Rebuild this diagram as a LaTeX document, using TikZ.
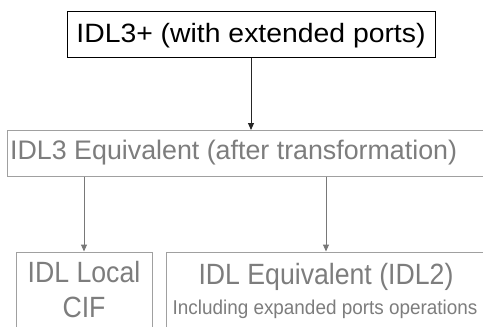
\documentclass[tikz,border=0pt]{standalone}
\usepackage{fontspec}
\setmainfont{Liberation Sans}
\newfontfamily\widefont[FakeStretch=1.07]{Liberation Sans}
\newfontfamily\midfont{Liberation Sans}
\newfontfamily\narrowfont[FakeStretch=0.91]{Liberation Sans}
\newfontfamily\incfont[FakeStretch=0.945]{Liberation Sans}
\usetikzlibrary{arrows.meta}
\definecolor{txtgray}{RGB}{125,125,125}
\definecolor{boxgray}{RGB}{160,160,160}
\definecolor{arrgray}{RGB}{120,120,120}
\tikzset{
  blackbox/.style={draw=black, line width=1pt, inner sep=0pt, fill=white},
  graybox/.style={draw=boxgray, line width=1pt, inner sep=0pt},
  lbl/.style={inner sep=0pt, anchor=base},
  conn/.style={line width=1pt, -{Triangle[length=7pt,width=6pt]}},
}
\begin{document}
\begin{tikzpicture}[x=1pt,y=-1pt]
\useasboundingbox (0,0) rectangle (483,327);
\fill[white] (0,0) rectangle (483,327);
% boxes
\node[blackbox, minimum width=368pt, minimum height=46pt] (top) at (251,34) {};
\node[graybox, minimum width=490pt, minimum height=45.5pt] (mid) at (252,153.25) {};
\node[graybox, minimum width=136pt, minimum height=90pt] (local) at (84,297) {};
\node[graybox, minimum width=320pt, minimum height=90pt] (equiv) at (326,297) {};
% texts
\node[lbl, text=black, font={\widefont\fontsize{26.5}{30}\selectfont}] (topT) at (251,42.3) {IDL3+ (with extended ports)};
\node[lbl, anchor=base west, text=txtgray, font={\midfont\fontsize{26.8}{30}\selectfont}] (midT) at (10,159.3) {IDL3 Equivalent (after transformation)};
\node[lbl, text=txtgray, font={\narrowfont\fontsize{29.3}{33}\selectfont}] (localT1) at (84,282.7) {IDL Local};
\node[lbl, text=txtgray, font={\narrowfont\fontsize{29.3}{33}\selectfont}] (localT2) at (84,317) {CIF};
\node[lbl, text=txtgray, font={\narrowfont\fontsize{29.3}{33}\selectfont}] (equivT1) at (326,284) {IDL Equivalent (IDL2)};
\node[lbl, text=txtgray, font={\incfont\fontsize{20}{22}\selectfont}] (equivT2) at (325,314.3) {Including expanded ports operations};
% connectors
\draw[conn, draw=black!85, fill=black!85] (top.south) -- (top.south |- mid.north);
\draw[conn, draw=arrgray, fill=arrgray] (local.north |- mid.south) -- (local.north);
\draw[conn, draw=arrgray, fill=arrgray] (equiv.north |- mid.south) -- (equiv.north);
\end{tikzpicture}
\end{document}
